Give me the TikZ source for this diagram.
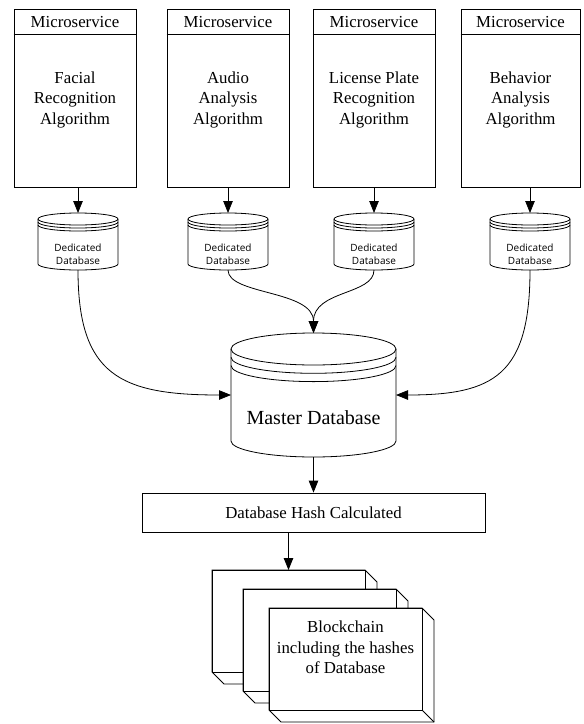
\documentclass[tikz,border=0pt]{standalone}
\usepackage{fontspec}
\setmainfont{Liberation Serif}
\newfontfamily\dbfont{Open Sans}
\usetikzlibrary{arrows.meta}
\newcommand\smalldb[2]{%
  \filldraw[fill=white] (#2-40,-219) -- (#2-40,-264)
     arc[start angle=180,end angle=360,x radius=40,y radius=6] -- (#2+40,-219)
     arc[start angle=0,end angle=180,x radius=40,y radius=6] -- cycle;
  \draw (#2-40,-219) arc[start angle=180,end angle=360,x radius=40,y radius=6];
  \draw (#2-40,-222) arc[start angle=180,end angle=360,x radius=40,y radius=6];
  \draw (#2-40,-225) arc[start angle=180,end angle=360,x radius=40,y radius=6];
  \coordinate (#1t) at (#2,-213);
  \coordinate (#1b) at (#2,-270);
  \node[dblbl] (#1l) at (#2,-254.5) {Dedicated\\Database};
}
\newcommand\blockbox[3]{%
  \filldraw[fill=white] (#2,-#3) -- ++(153,0) -- ++(12,-12) -- ++(0,-102)
     -- ++(-153,0) -- ++(-12,12) -- cycle;
  \draw (#2,-#3) rectangle ++(153,-102);
  \draw (#2+153,-#3-102) -- ++(12,-12);
  \coordinate (#1) at (#2+76.5,-#3);
}
\begin{document}
\begin{tikzpicture}[x=1pt,y=1pt,
  line width=0.8pt,
  arr/.style={-{Triangle[length=12pt,width=9.5pt]}},
  msbox/.style={draw, minimum height=178pt, inner sep=0pt, fill=white},
  lbl/.style={font=\fontsize{16.8}{20.5}\selectfont, align=center, inner sep=0pt},
  dblbl/.style={font=\dbfont\fontsize{10}{13.3}\selectfont, align=center, inner sep=0pt},
  hashbox/.style={draw, minimum width=343pt, minimum height=39pt, inner sep=0pt,
     font=\fontsize{16.8}{20.5}\selectfont},
]
\useasboundingbox (0,0) rectangle (584,-724);

% microservice boxes
\node[msbox, minimum width=122pt] (ms1) at (75,-98) {};
\node[msbox, minimum width=122pt] (ms2) at (228,-98) {};
\node[msbox, minimum width=122pt] (ms3) at (374,-98) {};
\node[msbox, minimum width=119pt] (ms4) at (520.5,-98) {};
\foreach \m in {ms1,ms2,ms3,ms4}{
  \draw ([yshift=-26pt]\m.north west) -- ([yshift=-26pt]\m.north east);
}
\node[lbl] (h1) at (75,-22) {Microservice};
\node[lbl] (h2) at (228,-22) {Microservice};
\node[lbl] (h3) at (374,-22) {Microservice};
\node[lbl] (h4) at (520.5,-22) {Microservice};
\node[lbl] (t1) at (75,-99.5) {Facial\\Recognition\\Algorithm};
\node[lbl] (t2) at (228,-99.5) {Audio\\Analysis\\Algorithm};
\node[lbl] (t3) at (374,-99.5) {License Plate\\Recognition\\Algorithm};
\node[lbl] (t4) at (520.5,-99.5) {Behavior\\Analysis\\Algorithm};

% dedicated databases
\smalldb{d1}{78}
\smalldb{d2}{228}
\smalldb{d3}{374}
\smalldb{d4}{530}

\draw[arr] (ms1.south -| d1t) -- (d1t);
\draw[arr] (ms2.south -| d2t) -- (d2t);
\draw[arr] (ms3.south -| d3t) -- (d3t);
\draw[arr] (ms4.south -| d4t) -- (d4t);

% master database
\filldraw[fill=white] (231,-349) -- (231,-441)
   arc[start angle=180,end angle=360,x radius=82.5,y radius=16] -- (396,-349)
   arc[start angle=0,end angle=180,x radius=82.5,y radius=16] -- cycle;
\draw (231,-349) arc[start angle=180,end angle=360,x radius=82.5,y radius=16];
\draw (231,-357.3) arc[start angle=180,end angle=360,x radius=82.5,y radius=16];
\draw (231,-365.6) arc[start angle=180,end angle=360,x radius=82.5,y radius=16];
\coordinate (mt) at (313.5,-333);
\coordinate (mb) at (313.5,-457);
\coordinate (ml) at (231,-395);
\coordinate (mr) at (396,-395);
\node[font=\fontsize{20}{24}\selectfont, inner sep=0pt] (mtxt) at (313.5,-418) {Master Database};

\draw[arr] (d1b) .. controls (78,-375) and (120,-395) .. (ml);
\draw[arr] (d4b) .. controls (530,-375) and (494,-395) .. (mr);
\draw[arr] (d2b) .. controls (228,-295) and (313.5,-290) .. (mt);
\draw[arr] (d3b) .. controls (374,-295) and (313.5,-290) .. (mt);

% hash box
\node[hashbox] (hash) at (313.5,-512.5) {Database Hash Calculated};
\draw[arr] (mb) -- (hash.north);

% blockchain boxes
\blockbox{bA}{212}{570}
\blockbox{bB}{243}{589}
\blockbox{bC}{269}{608}
\node[lbl] (btxt) at (345.5,-647.5) {Blockchain\\including the hashes\\of Database};
\draw[arr] (hash.south -| bA) -- (bA);
\end{tikzpicture}
\end{document}
